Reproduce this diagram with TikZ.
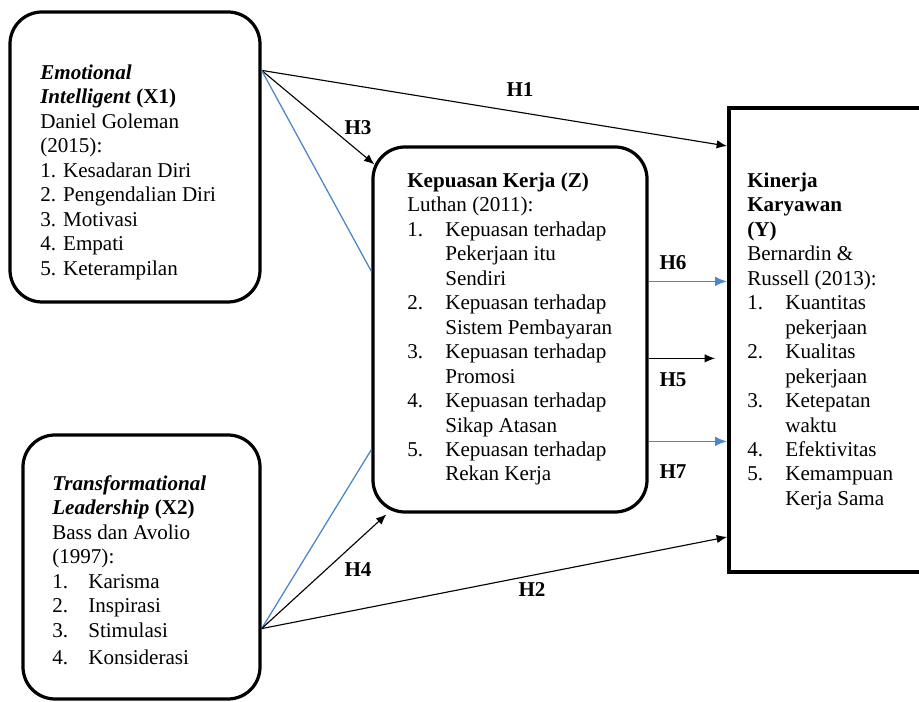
\documentclass[tikz,border=0pt]{standalone}
\usepackage{fontspec}
\setmainfont{Liberation Serif}
\usetikzlibrary{arrows.meta,calc}
\definecolor{PathBlue}{HTML}{4A86C8}
\newcommand{\numitem}[2]{\makebox[0.95cm][l]{#1}#2}
\newcommand{\contitem}[1]{\hspace*{0.95cm}#1}
\newcommand{\numitemb}[2]{\makebox[0.9cm][l]{#1}#2}
\tikzset{
  varbox/.style={rectangle, rounded corners=0.8cm, draw=black, line width=2.3pt, inner sep=0pt},
  ybox/.style={rectangle, draw=black, line width=2.8pt, inner sep=0pt},
  boxtext/.style={anchor=north west, inner sep=0pt, align=left, font=\fontsize{15}{17.4}\selectfont},
  arrow/.style={-{Latex[length=2.6mm,width=2.1mm]}, line width=0.8pt, black},
  bluearrow/.style={-{Latex[length=3mm,width=2.4mm]}, line width=1.1pt, PathBlue},
  blueline/.style={line width=0.9pt, PathBlue},
  hlabel/.style={font=\fontsize{15}{17}\selectfont\bfseries, inner sep=0pt}
}

\begin{document}
\begin{tikzpicture}
  \clip (0,0) rectangle (22.975,17.55);

  % Boxes
  \node[varbox, minimum width=6.25cm, minimum height=7.25cm] (x1) at (3.375,13.625) {};
  \node[varbox, minimum width=5.925cm, minimum height=6.6cm] (x2) at (3.5375,3.375) {};
  \node[varbox, minimum width=6.85cm, minimum height=9.125cm] (z) at (12.75,9.3125) {};
  \node[ybox, minimum width=5.025cm, minimum height=11.6cm] (y) at (20.7375,9.05) {};

  % Box texts
  \node[boxtext] (x1txt) at (1.0,16.0) {\strut\textbf{\textit{Emotional}}\\
    \textbf{\textit{Intelligent} (X1)}\\
    Daniel Goleman\\
    (2015):\\
    1. Kesadaran Diri\\
    2. Pengendalian Diri\\
    3. Motivasi\\
    4. Empati\\
    5. Keterampilan};
  \node[boxtext] (x2txt) at (1.3,5.725) {\strut\textbf{\textit{Transformational}}\\
    \textbf{\textit{Leadership} (X2)}\\
    Bass dan Avolio\\
    (1997):\\
    \numitemb{1.}{Karisma}\\
    \numitemb{2.}{Inspirasi}\\
    \numitemb{3.}{Stimulasi}\\[2pt]
    \numitemb{4.}{Konsiderasi}};
  \node[boxtext] (ztxt) at (10.175,13.3) {\strut\textbf{Kepuasan Kerja (Z)}\\
    Luthan (2011):\\
    \numitem{1.}{Kepuasan terhadap}\\
    \contitem{Pekerjaan itu}\\
    \contitem{Sendiri}\\
    \numitem{2.}{Kepuasan terhadap}\\
    \contitem{Sistem Pembayaran}\\
    \numitem{3.}{Kepuasan terhadap}\\
    \contitem{Promosi}\\
    \numitem{4.}{Kepuasan terhadap}\\
    \contitem{Sikap Atasan}\\
    \numitem{5.}{Kepuasan terhadap}\\
    \contitem{Rekan Kerja}};
  \node[boxtext] (ytxt) at (18.675,13.3) {\strut\textbf{Kinerja}\\
    \textbf{Karyawan}\\
    \textbf{(Y)}\\
    Bernardin \&\\
    Russell (2013):\\
    \numitem{1.}{Kuantitas}\\
    \contitem{pekerjaan}\\
    \numitem{2.}{Kualitas}\\
    \contitem{pekerjaan}\\
    \numitem{3.}{Ketepatan}\\
    \contitem{waktu}\\
    \numitem{4.}{Efektivitas}\\
    \numitem{5.}{Kemampuan}\\
    \contitem{Kerja Sama}};

  % Connector ends
  \coordinate (x1out) at ($(x1.north east)+(0,-1.5)$);
  \coordinate (x2out) at ($(x2.south east)+(0,1.8)$);
  \coordinate (zh3) at (9.36,13.44);
  \coordinate (zh4) at (9.66,4.69);
  \coordinate (zblue1) at ($(z.north west)+(0,-3.15)$);
  \coordinate (zblue2) at ($(z.south west)+(0,1.6)$);
  \coordinate (zh6) at ($(z.north east)+(0,-3.4)$);
  \coordinate (zh5) at ($(z.north east)+(0,-5.325)$);
  \coordinate (zh7) at ($(z.north east)+(0,-7.4)$);
  \coordinate (yh1) at ($(y.north west)+(0,-1)$);
  \coordinate (yh6) at (y.west |- zh6);
  \coordinate (yh5) at ($(y.west |- zh5)+(-0.3,0)$);
  \coordinate (yh7) at (y.west |- zh7);
  \coordinate (yh2) at ($(y.south west)+(0,0.925)$);

  % Paths
  \draw[arrow] (x1out) -- (yh1);
  \draw[arrow] (x1out) -- (zh3);
  \draw[blueline] (x1out) -- (zblue1);
  \draw[blueline] (x2out) -- (zblue2);
  \draw[arrow] (x2out) -- (zh4);
  \draw[arrow] (x2out) -- (yh2);
  \draw[bluearrow] (zh6) -- (yh6);
  \draw[arrow] (zh5) -- (yh5);
  \draw[bluearrow] (zh7) -- (yh7);

  % Labels
  \node[hlabel] (h1) at (13.0,15.3) {H1};
  \node[hlabel] (h3) at (8.95,14.35) {H3};
  \node[hlabel] (h6) at (16.825,10.975) {H6};
  \node[hlabel] (h5) at (16.825,8.05) {H5};
  \node[hlabel] (h7) at (16.825,5.75) {H7};
  \node[hlabel] (h4) at (8.95,3.3) {H4};
  \node[hlabel] (h2) at (13.3,2.8) {H2};
\end{tikzpicture}
\end{document}
